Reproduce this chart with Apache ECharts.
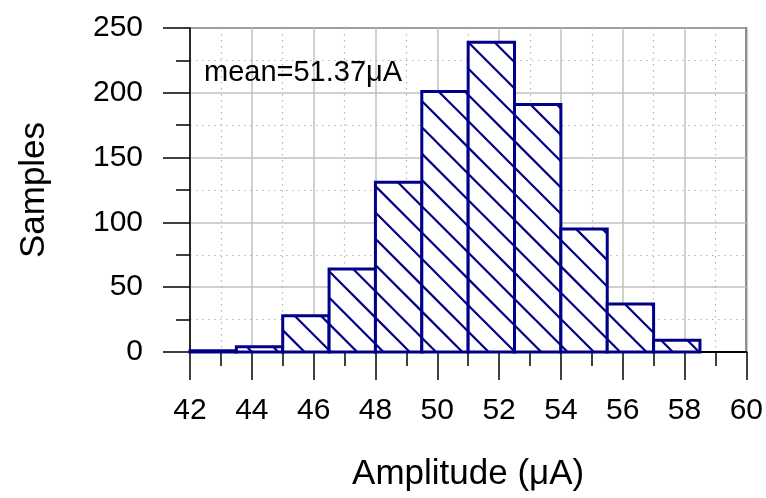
<!DOCTYPE html>
<html>
<head>
<meta charset="utf-8">
<script src="https://cdn.jsdelivr.net/npm/echarts@6/dist/echarts.min.js"></script>
<style>
html,body{margin:0;padding:0;background:#fff;}
#chart{width:766px;height:498px;}
</style>
</head>
<body>
<div id="chart"></div>
<script>
// ---- data ----
const binEdges = [42, 43.5, 45, 46.5, 48, 49.5, 51, 52.5, 54, 55.5, 57, 58.5];
const counts   = [1, 4, 28, 64, 131, 201, 239, 191, 95, 37, 9];
const xTickMin = 42, xTickMax = 60, xTickStep = 2;
const yTickMin = 0, yTickMax = 250, yTickStep = 50;
const xTitle = 'Amplitude (μA)';
const yTitle = 'Samples';
const meanLabel = 'mean=51.37μA';

const FONT = 'Liberation Sans, Arial, sans-serif';
const NAVY = '#000088';
const HATCH_STEP = 26.3;
const HATCH_C0 = -426;

const histData = counts.map((c, i) => [binEdges[i], binEdges[i + 1], c]);

function renderBin(params, api) {
  const x0 = api.value(0), x1 = api.value(1), v = api.value(2);
  const pBL = api.coord([x0, 0]);
  const pTR = api.coord([x1, v]);
  const L = pBL[0], B = pBL[1], R = pTR[0], T = pTR[1];
  const children = [];
  children.push({type: 'rect', shape: {x: L, y: T, width: R - L, height: B - T},
    style: {fill: '#ffffff', stroke: null}});
  const kMin = Math.ceil((T - R - HATCH_C0) / HATCH_STEP);
  const kMax = Math.floor((B - L - HATCH_C0) / HATCH_STEP);
  for (let k = kMin; k <= kMax; k++) {
    const c = HATCH_C0 + k * HATCH_STEP;
    const xa = Math.max(L, T - c), xb = Math.min(R, B - c);
    if (xb <= xa) continue;
    children.push({type: 'line', shape: {x1: xa, y1: xa + c, x2: xb, y2: xb + c},
      style: {stroke: NAVY, lineWidth: 2.2}});
  }
  children.push({type: 'rect', shape: {x: L, y: T, width: R - L, height: B - T},
    style: {fill: 'none', stroke: NAVY, lineWidth: 3}});
  return {type: 'group', children};
}

const chart = echarts.init(document.getElementById('chart'), null, {renderer: 'canvas'});
chart.setOption({
  animation: false,
  backgroundColor: '#ffffff',
  grid: {left: 190, right: 19, top: 28, bottom: 146, show: true,
    borderColor: '#000', borderWidth: 1.5, backgroundColor: 'transparent'},
  xAxis: {
    type: 'value', min: xTickMin, max: xTickMax, interval: xTickStep,
    name: xTitle, nameLocation: 'middle', nameGap: 105,
    nameTextStyle: {fontFamily: FONT, fontSize: 35, color: '#000'},
    axisLine: {show: true, lineStyle: {color: '#000', width: 2}},
    axisTick: {show: true, inside: false, length: 28, lineStyle: {color: '#000', width: 1.5}},
    minorTick: {show: true, splitNumber: 2, length: 14, lineStyle: {color: '#000', width: 1.5}},
    axisLabel: {fontFamily: FONT, fontSize: 30, color: '#000', margin: 44},
    splitLine: {show: true, lineStyle: {color: '#c0c0c0', width: 1.5}},
    minorSplitLine: {show: true, lineStyle: {color: '#b4b4b4', width: 1.2, type: [1.5, 4.5]}}
  },
  yAxis: {
    type: 'value', min: yTickMin, max: yTickMax, interval: yTickStep,
    name: yTitle, nameLocation: 'middle', nameGap: 138,
    nameTextStyle: {fontFamily: FONT, fontSize: 35, color: '#000'},
    axisLine: {show: true, lineStyle: {color: '#000', width: 1.5}},
    axisTick: {show: true, inside: false, length: 27, lineStyle: {color: '#000', width: 1.5}},
    minorTick: {show: true, splitNumber: 2, length: 14, lineStyle: {color: '#000', width: 1.5}},
    axisLabel: {fontFamily: FONT, fontSize: 30, color: '#000', margin: 47},
    splitLine: {show: true, lineStyle: {color: '#c0c0c0', width: 1.5}},
    minorSplitLine: {show: true, lineStyle: {color: '#b4b4b4', width: 1.2, type: [1.5, 4.5]}}
  },
  graphic: [{
    type: 'text', left: 204, top: 58, z: 100,
    style: {text: meanLabel, font: '29px ' + FONT, fill: '#000'}
  }],
  series: [{
    type: 'custom',
    renderItem: renderBin,
    encode: {x: [0, 1], y: 2},
    data: histData,
    clip: false,
    z: 5
  }]
});
</script>
</body>
</html>
